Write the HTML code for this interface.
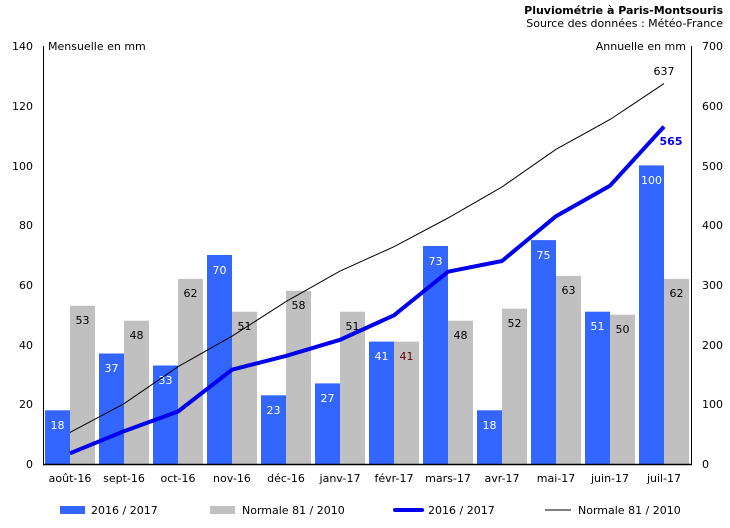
<!DOCTYPE html>
<html><head><meta charset="utf-8"><style>
body{margin:0;background:#fff}
svg{display:block;font-family:"DejaVu Sans","Liberation Sans",sans-serif;font-size:11px}
</style></head><body>
<svg width="730" height="528" viewBox="0 0 730 528" xmlns="http://www.w3.org/2000/svg">
<text x="723" y="14" text-anchor="end" font-weight="bold">Pluviométrie à Paris-Montsouris</text>
<text x="723" y="27" text-anchor="end">Source des données : Météo-France</text>
<text x="48" y="50">Mensuelle en mm</text>
<text x="686" y="50" text-anchor="end">Annuelle en mm</text>
<g text-anchor="end">
<text x="33" y="468">0</text><text x="33" y="408">20</text><text x="33" y="349">40</text><text x="33" y="289">60</text><text x="33" y="229">80</text><text x="33" y="170">100</text><text x="33" y="110">120</text><text x="33" y="50">140</text>
</g>
<g text-anchor="start">
<text x="702" y="468">0</text><text x="702" y="408">100</text><text x="702" y="349">200</text><text x="702" y="289">300</text><text x="702" y="229">400</text><text x="702" y="170">500</text><text x="702" y="110">600</text><text x="702" y="50">700</text>
</g>
<g fill="#3366ff">
<rect x="45" y="410.3" width="25" height="53.7"/><rect x="99" y="353.5" width="25" height="110.5"/><rect x="153" y="365.5" width="25" height="98.5"/><rect x="207" y="255" width="25" height="209"/><rect x="261" y="395.3" width="25" height="68.7"/><rect x="315" y="383.4" width="25" height="80.6"/><rect x="369" y="341.6" width="25" height="122.4"/><rect x="423" y="246" width="25" height="218"/><rect x="477" y="410.3" width="25" height="53.7"/><rect x="531" y="240.1" width="25" height="223.9"/><rect x="585" y="311.7" width="25" height="152.3"/><rect x="639" y="165.4" width="25" height="298.6"/>
</g>
<g fill="#c0c0c0">
<rect x="70" y="305.8" width="25" height="158.2"/><rect x="124" y="320.7" width="25" height="143.3"/><rect x="178" y="278.9" width="25" height="185.1"/><rect x="232" y="311.7" width="25" height="152.3"/><rect x="286" y="290.8" width="25" height="173.2"/><rect x="340" y="311.7" width="25" height="152.3"/><rect x="394" y="341.6" width="25" height="122.4"/><rect x="448" y="320.7" width="25" height="143.3"/><rect x="502" y="308.7" width="25" height="155.3"/><rect x="556" y="275.9" width="25" height="188.1"/><rect x="610" y="314.7" width="25" height="149.3"/><rect x="664" y="278.9" width="25" height="185.1"/>
</g>
<g fill="#fff" text-anchor="middle">
<text x="57.5" y="429">18</text><text x="111.5" y="372">37</text><text x="165.5" y="384">33</text><text x="219.5" y="274">70</text><text x="273.5" y="414">23</text><text x="327.5" y="402">27</text><text x="381.5" y="360">41</text><text x="435.5" y="265">73</text><text x="489.5" y="429">18</text><text x="543.5" y="259">75</text><text x="597.5" y="330">51</text><text x="651.5" y="184">100</text>
</g>
<g fill="#000" text-anchor="middle">
<text x="82.5" y="324">53</text><text x="136.5" y="339">48</text><text x="190.5" y="297">62</text><text x="244.5" y="330">51</text><text x="298.5" y="309">58</text><text x="352.5" y="330">51</text><text x="406.5" y="360" fill="#600">41</text><text x="460.5" y="339">48</text><text x="514.5" y="327">52</text><text x="568.5" y="294">63</text><text x="622.5" y="333">50</text><text x="676.5" y="297">62</text>
</g>
<polyline fill="none" stroke="#000" stroke-width="1" points="70,432.4 124,403.7 178,366.7 232,336.2 286,301.6 340,271.1 394,246.7 448,218 502,186.9 556,149.3 610,119.5 664,83.6"/>
<polyline fill="none" stroke="#0000ee" stroke-width="4" stroke-linejoin="round" points="70,453.3 124,431.2 178,411.5 232,369.7 286,355.9 340,339.8 394,315.3 448,271.7 502,261 556,216.2 610,185.7 664,126.6"/>
<text x="664" y="75" text-anchor="middle">637</text>
<text x="671" y="145" text-anchor="middle" fill="#0000ee" font-weight="bold">565</text>
<line x1="43.5" y1="46" x2="43.5" y2="464.5" stroke="#000"/>
<line x1="691.5" y1="46" x2="691.5" y2="464.5" stroke="#000"/>
<line x1="43" y1="464.5" x2="692" y2="464.5" stroke="#000" stroke-width="1.5"/>
<g text-anchor="middle">
<text x="70" y="482">août-16</text><text x="124" y="482">sept-16</text><text x="178" y="482">oct-16</text><text x="232" y="482">nov-16</text><text x="286" y="482">déc-16</text><text x="340" y="482">janv-17</text><text x="394" y="482">févr-17</text><text x="448" y="482">mars-17</text><text x="502" y="482">avr-17</text><text x="556" y="482">mai-17</text><text x="610" y="482">juin-17</text><text x="664" y="482">juil-17</text>
</g>
<rect x="60" y="506" width="25" height="8" fill="#3366ff"/><text x="91" y="514">2016 / 2017</text>
<rect x="210" y="506" width="25" height="8" fill="#c0c0c0"/><text x="242" y="514">Normale 81 / 2010</text>
<line x1="395" y1="510" x2="422" y2="510" stroke="#0000ee" stroke-width="4" stroke-linecap="round"/><text x="428" y="514">2016 / 2017</text>
<line x1="545" y1="510" x2="571" y2="510" stroke="#000"/><text x="578" y="514">Normale 81 / 2010</text>
</svg>
</body></html>
